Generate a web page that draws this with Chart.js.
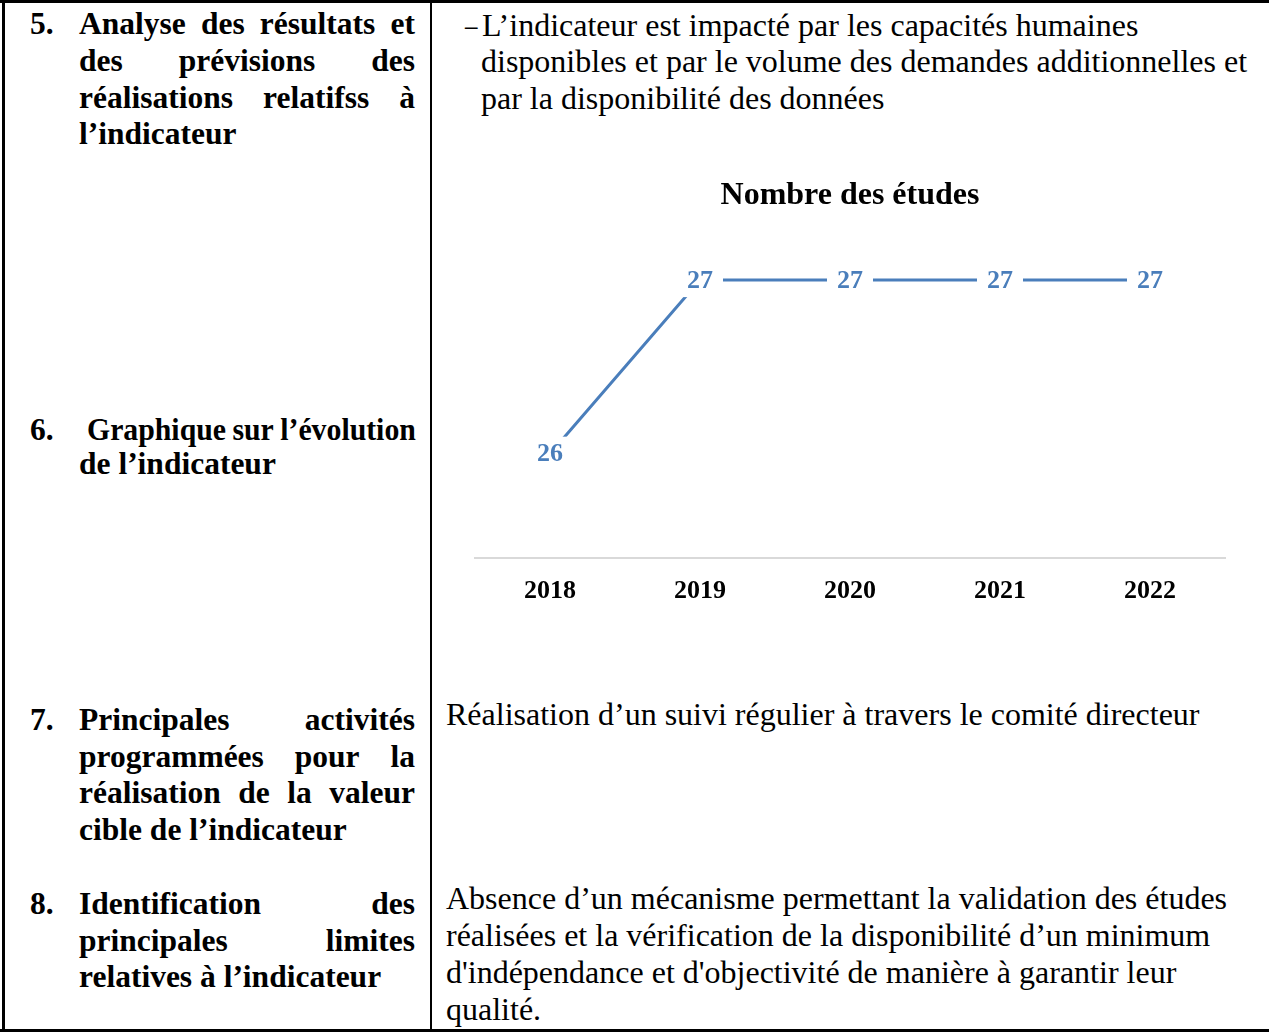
<!DOCTYPE html>
<html lang="fr">
<head>
<meta charset="utf-8">
<title>Nombre des études</title>
<script src="https://cdn.jsdelivr.net/npm/chart.js@4.4.1/dist/chart.umd.min.js"></script>
<style>
  html, body { margin: 0; padding: 0; background: #fff; }
  body { width: 1269px; height: 1032px; position: relative; overflow: hidden; font-family: "Liberation Serif", "Times New Roman", serif; color: #000; }
  .rule { position: absolute; background: #000; }
  .ln { position: absolute; line-height: 37px; white-space: nowrap; }
  .l { font-weight: bold; font-size: 31.5px; }
  .r { font-size: 32px; }
  .j { display: flex; justify-content: space-between; }
  #chartBox { position: absolute; left: 460px; top: 160px; width: 780px; height: 480px; }
</style>
</head>
<body>
<div class="rule" style="left:0;top:0;width:1269px;height:3px"></div>
<div class="rule" style="left:2px;top:0;width:3px;height:1032px"></div>
<div class="rule" style="left:430px;top:0;width:2px;height:1032px"></div>
<div class="rule" style="left:0;top:1029px;width:1269px;height:3px"></div>

<!-- colonne gauche -->
<div class="ln l" style="left:30px;top:5px">5.</div>
<div class="ln l j" style="left:79px;top:5px;width:336px"><span>Analyse</span><span>des</span><span>résultats</span><span>et</span></div>
<div class="ln l j" style="left:79px;top:42px;width:336px"><span>des</span><span>prévisions</span><span>des</span></div>
<div class="ln l j" style="left:79px;top:79px;width:336px"><span>réalisations</span><span>relatifss</span><span>à</span></div>
<div class="ln l" style="left:79px;top:115px">l’indicateur</div>

<div class="ln l" style="left:30px;top:411px">6.</div>
<div class="ln l j" style="left:87px;top:411px;width:348px;transform:scaleX(0.945);transform-origin:left center"><span>Graphique</span><span>sur</span><span>l’évolution</span></div>
<div class="ln l" style="left:79px;top:445px">de l’indicateur</div>

<div class="ln l" style="left:30px;top:701px">7.</div>
<div class="ln l j" style="left:79px;top:701px;width:336px"><span>Principales</span><span>activités</span></div>
<div class="ln l j" style="left:79px;top:738px;width:336px"><span>programmées</span><span>pour</span><span>la</span></div>
<div class="ln l j" style="left:79px;top:774px;width:336px"><span>réalisation</span><span>de</span><span>la</span><span>valeur</span></div>
<div class="ln l" style="left:79px;top:811px">cible de l’indicateur</div>

<div class="ln l" style="left:30px;top:885px">8.</div>
<div class="ln l j" style="left:79px;top:885px;width:336px"><span>Identification</span><span>des</span></div>
<div class="ln l j" style="left:79px;top:922px;width:336px"><span>principales</span><span>limites</span></div>
<div class="ln l" style="left:79px;top:958px">relatives à l’indicateur</div>

<!-- colonne droite -->
<div class="ln r" style="left:465px;top:7px;transform:scaleX(0.78);transform-origin:left center">–</div>
<div class="ln r" style="left:482px;top:7px">L’indicateur est impacté par les capacités humaines</div>
<div class="ln r" style="left:481px;top:43px">disponibles et par le volume des demandes additionnelles et</div>
<div class="ln r" style="left:481px;top:80px">par la disponibilité des données</div>

<div id="chartBox"><canvas id="chart" width="780" height="480"></canvas></div>

<div class="ln r" style="left:446px;top:696px">Réalisation d’un suivi régulier à travers le comité directeur</div>

<div class="ln r" style="left:446px;top:880px">Absence d’un mécanisme permettant la validation des études</div>
<div class="ln r" style="left:446px;top:917px">réalisées et la vérification de la disponibilité d’un minimum</div>
<div class="ln r" style="left:446px;top:954px">d'indépendance et d'objectivité de manière à garantir leur</div>
<div class="ln r" style="left:446px;top:991px">qualité.</div>

<script>
const annees = ['2018', '2019', '2020', '2021', '2022'];
const etudes = [26, 27, 27, 27, 27];

const blue = '#4a7ebb';

// étiquettes de valeur sur fond blanc, centrées sur les points
const valueLabels = {
  id: 'valueLabels',
  afterDatasetsDraw(chart) {
    const ctx = chart.ctx;
    const meta = chart.getDatasetMeta(0);
    ctx.save();
    ctx.font = 'bold 26px "Liberation Serif"';
    ctx.textAlign = 'center';
    ctx.textBaseline = 'middle';
    meta.data.forEach((pt, i) => {
      const txt = String(etudes[i]);
      const w = ctx.measureText(txt).width + 20;
      ctx.fillStyle = '#fff';
      ctx.fillRect(pt.x - w / 2, pt.y - 17, w, 34);
      ctx.fillStyle = blue;
      ctx.fillText(txt, pt.x, pt.y + 1);
    });
    ctx.restore();
  }
};

const ctx = document.getElementById('chart').getContext('2d');
new Chart(ctx, {
  type: 'line',
  data: {
    labels: annees,
    datasets: [{
      label: 'Nombre des études',
      data: etudes,
      borderColor: blue,
      borderWidth: 3,
      pointRadius: 0,
      tension: 0,
    }],
  },
  options: {
    responsive: false,
    animation: false,
    layout: { padding: { left: 15, right: 15, top: 0, bottom: 15 } },
    plugins: {
      legend: { display: false },
      tooltip: { enabled: false },
      title: {
        display: true,
        text: 'Nombre des études',
        color: '#000',
        font: { family: 'Liberation Serif', size: 32, weight: 'bold' },
        padding: { top: 17, bottom: 30 },
      },
    },
    scales: {
      x: {
        offset: true,
        grid: { display: false, drawTicks: false },
        border: { display: true, color: '#d9d9d9', width: 2 },
        ticks: {
          color: '#000',
          padding: 18,
          font: { family: 'Liberation Serif', size: 26, weight: 'bold' },
        },
      },
      y: {
        display: false,
        min: 25.4,
        max: 27.2,
      },
    },
  },
  plugins: [valueLabels],
});
</script>
</body>
</html>
